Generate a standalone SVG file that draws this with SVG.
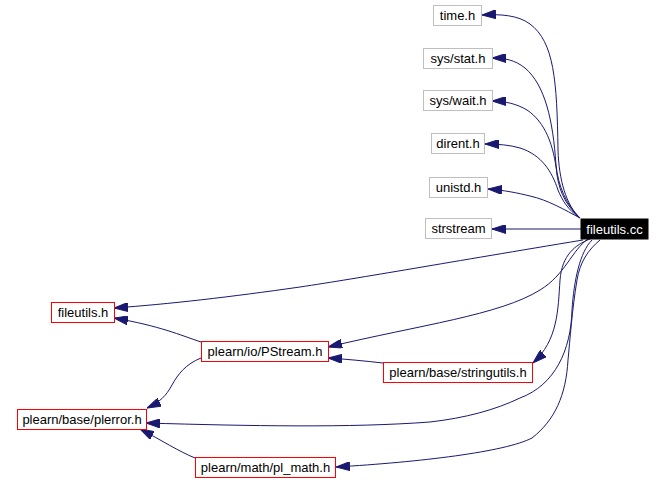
<svg xmlns="http://www.w3.org/2000/svg" width="665" height="489" viewBox="0 0 665 489">
<style>
text{font-family:"Liberation Sans",Arial,sans-serif;font-size:13px;text-anchor:middle;fill:#000}
.sys rect{fill:#fff;stroke:#bfbfbf;stroke-width:1}
.loc rect{fill:#fff;stroke:#ff0000;stroke-width:1}
.root rect{fill:#000;stroke:#000}
.root text{fill:#fff}
.e path{fill:none;stroke:#191970;stroke-width:1;marker-end:url(#ah)}
</style>
<defs>
<marker id="ah" markerUnits="userSpaceOnUse" markerWidth="14" markerHeight="9" refX="14" refY="4.5" orient="auto" viewBox="0 0 14 9">
<path d="M0,0 L14,4.5 L0,9 z" fill="#191970" stroke="#191970"/>
</marker>
</defs>
<rect width="665" height="489" fill="#fff"/>
<g class="e" id="edges">
<path d="M580,218 C566,205 559,180 558,150 C557,80 554,42 530,24 C518,15 500,14 482,15"/>
<path d="M580,218 C566,205 558,185 556,165 C553,120 545,85 525,68 C515,60 505,58 492,58"/>
<path d="M580,218 C568,207 560,195 557,175 C554,145 545,122 527,110 C517,104 505,101 492,101"/>
<path d="M580,218 C568,210 562,200 558,190 C552,172 542,155 520,148 C510,145 498,144 485,144"/>
<path d="M580,218 C565,210 548,200 530,196 C518,193 503,190 488,189"/>
<path d="M581,229 L492,229"/>
<path d="M583,240 C450,262 360,278 300,287 C230,297 170,304 114,308"/>
<path d="M588,239 C572,250 565,275 540,290 C500,315 420,325 328,347"/>
<path d="M590,239 C575,245 562,255 560,280 C558,310 558,340 533,363"/>
<path d="M592,240 C580,252 574,280 572,310 C571,350 555,385 520,398 C495,410 465,418 430,422 C350,428 250,426 146,423"/>
<path d="M600,240 C588,250 580,262 577,280 C572,310 570,340 568,360 C566,395 555,420 532,438 C505,452 420,462 336,467"/>
<path d="M201,342 C180,335 160,326 114,318"/>
<path d="M201,358 C186,364 178,374 172,385 C166,396 160,402 147,408"/>
<path d="M383,363 C365,361 345,359 328,358"/>
<path d="M195,458 C178,451 163,441 140,429"/>
</g>
<g id="n_time" class="sys"><rect x="433.5" y="5.5" width="48" height="20"/><text x="457.5" y="20">time.h</text></g>
<g id="n_stat" class="sys"><rect x="423.5" y="48.5" width="69" height="20"/><text x="458" y="63">sys/stat.h</text></g>
<g id="n_wait" class="sys"><rect x="423.5" y="90.5" width="69" height="20"/><text x="458" y="105">sys/wait.h</text></g>
<g id="n_dirent" class="sys"><rect x="431.5" y="133.5" width="53" height="20"/><text x="458" y="148">dirent.h</text></g>
<g id="n_unistd" class="sys"><rect x="429.5" y="177.5" width="58" height="20"/><text x="458.5" y="192">unistd.h</text></g>
<g id="n_strstream" class="sys"><rect x="425.5" y="218.5" width="66" height="20"/><text x="458.5" y="233">strstream</text></g>
<g id="n_root" class="root"><rect x="581" y="219" width="67" height="20"/><text x="614.5" y="234">fileutils.cc</text></g>
<g id="n_fileutils_h" class="loc"><rect x="51.5" y="302.5" width="63" height="20"/><text x="83" y="317">fileutils.h</text></g>
<g id="n_pstream" class="loc"><rect x="201.5" y="341.5" width="127" height="20"/><text x="265" y="356">plearn/io/PStream.h</text></g>
<g id="n_stringutils" class="loc"><rect x="383.5" y="362.5" width="149" height="20"/><text x="458" y="377">plearn/base/stringutils.h</text></g>
<g id="n_plerror" class="loc"><rect x="17.5" y="409.5" width="129" height="20"/><text x="82" y="424">plearn/base/plerror.h</text></g>
<g id="n_plmath" class="loc"><rect x="195.5" y="457.5" width="140" height="20"/><text x="265.5" y="472">plearn/math/pl_math.h</text></g>
</svg>
